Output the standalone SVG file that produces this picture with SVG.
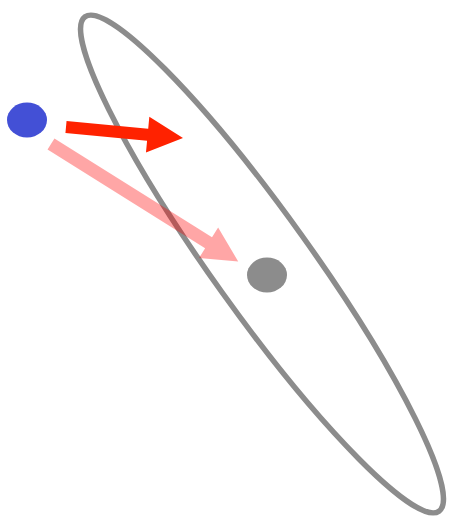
<svg xmlns="http://www.w3.org/2000/svg" width="451" height="518" viewBox="0 0 451 518">
<style>
.ring{fill:none;stroke:#8c8c8c;stroke-width:5.5}
.arrow-red{fill:#ff2200}
.arrow-pink{fill:#ff0000;opacity:0.35}
</style>
<rect width="451" height="518" fill="#ffffff"/>
<g id="ellipse">
<ellipse class="ring" cx="262" cy="264" rx="304" ry="49" transform="rotate(54.4 262 264)"/>
</g>
<g id="blue-dot"><ellipse cx="27" cy="120" rx="20" ry="17.5" fill="#4350d6"/></g>
<g id="gray-dot"><ellipse cx="267" cy="275" rx="20" ry="17.5" fill="#8c8c8c"/></g>
<g id="connectors">
<polygon class="arrow-red" transform="translate(66,127) rotate(5.37)" points="0,-6 82,-6 82,-18 117.5,0 82,18 82,6 0,6"/>
<polygon class="arrow-pink" transform="translate(51,144) rotate(32.1)" points="0,-6.5 186,-6.5 186,-18 221,0 186,18 186,6.5 0,6.5"/>
</g>
</svg>
